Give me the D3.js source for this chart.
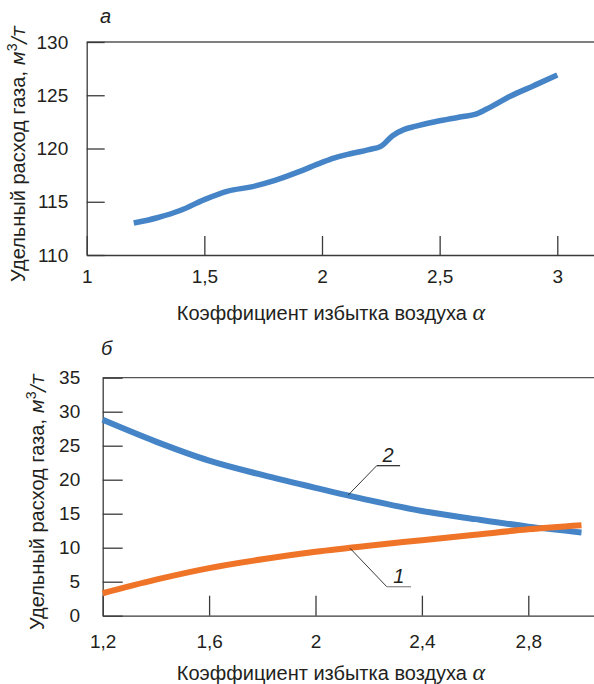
<!DOCTYPE html>
<html>
<head>
<meta charset="utf-8">
<script src="https://cdn.jsdelivr.net/npm/d3@7"></script>
<style>
  body { margin: 0; background: #fff; }
  svg { display: block; font-family: "Liberation Sans", Arial, sans-serif; }
  .axis text { font-size: 19px; fill: #231f20; font-family: "Liberation Sans", Arial, sans-serif; }
  .axis line, .axis path { stroke: #3a3a3a; stroke-width: 1.3; }
  .title { font-size: 20px; fill: #231f20; }
</style>
</head>
<body>
<svg id="chart" width="594" height="684"></svg>
<script>
// chart a: specific gas consumption vs excess air coefficient
let topAlpha = [1.2, 1.3, 1.4, 1.5, 1.6, 1.7, 1.8, 1.9, 2.0, 2.05, 2.1, 2.2, 2.25, 2.3, 2.35, 2.4, 2.5, 2.6, 2.65, 2.7, 2.8, 2.9, 3.0];
let topGas = [113.0, 113.5, 114.2, 115.2, 116.0, 116.4, 117.0, 117.8, 118.7, 119.1, 119.4, 119.9, 120.2, 121.2, 121.8, 122.1, 122.6, 123.0, 123.2, 123.7, 124.9, 125.9, 126.9];
let topXTicks = [1, 1.5, 2, 2.5, 3];
let topYTicks = [110, 115, 120, 125, 130];

// chart б: curves 1 and 2
let botAlpha = [1.2, 1.4, 1.6, 1.8, 2.0, 2.2, 2.4, 2.6, 2.8, 3.0];
let curve1 = [3.3, 5.3, 7.0, 8.3, 9.4, 10.3, 11.1, 11.9, 12.7, 13.3];
let curve2 = [28.8, 25.6, 22.8, 20.7, 18.8, 17.0, 15.4, 14.2, 13.1, 12.25];
let botXTicks = [1.2, 1.6, 2, 2.4, 2.8];
let botYTicks = [0, 5, 10, 15, 20, 25, 30, 35];

let blue = "#4584c6", orange = "#ef7428";
let svg = d3.select("#chart");
let fmt = d => String(d).replace(".", ",");

// y axis title with oblique units and superscript
let yTitle = (x, cy) => {
    let t = svg.append("text")
        .attr("class", "title")
        .attr("font-size", "21.5px")
        .attr("transform", "translate(" + x + "," + cy + ") rotate(-90)")
        .attr("text-anchor", "middle");
    t.append("tspan").text("Удельный расход газа, ");
    t.append("tspan").attr("font-family", "'DejaVu Sans', sans-serif")
        .attr("font-style", "oblique").attr("font-size", "19px").text("м");
    t.append("tspan").attr("font-size", "14px").attr("dy", "-8").text("3");
    t.append("tspan").attr("font-family", "'DejaVu Sans', sans-serif")
        .attr("font-style", "oblique").attr("font-size", "19px").attr("dy", "8").text("/т");
};

let xTitle = (cx, y) => {
    let t = svg.append("text")
        .attr("class", "title")
        .attr("x", cx)
        .attr("y", y)
        .attr("text-anchor", "middle");
    t.append("tspan").text("Коэффициент избытка воздуха ");
    t.append("tspan")
        .attr("font-family", "'Liberation Serif', serif")
        .attr("font-style", "italic")
        .attr("font-size", "24px")
        .text("α");
};

let frame = (x, y) => {
    // top border
    svg.append("line")
        .attr("x1", x.range()[0]).attr("x2", x.range()[1])
        .attr("y1", y.range()[1]).attr("y2", y.range()[1])
        .attr("stroke", "#555").attr("stroke-width", 1.3);
};

// ---------- chart a ----------
let xA = d3.scaleLinear().domain([1, 3.156]).range([86.7, 594]);
let yA = d3.scaleLinear().domain([110, 130]).range([255, 42]);

frame(xA, yA);

svg.append("g")
    .attr("class", "axis")
    .attr("transform", "translate(0," + yA(110) + ")")
    .call(d3.axisBottom(xA).tickValues(topXTicks).tickFormat(fmt)
        .tickSizeInner(-19).tickSizeOuter(0).tickPadding(14.5));

svg.append("g")
    .attr("class", "axis")
    .attr("transform", "translate(" + xA(1) + ",0)")
    .call(d3.axisLeft(yA).tickValues(topYTicks)
        .tickSizeInner(-18).tickSizeOuter(0).tickPadding(18.5));

svg.append("path")
    .datum(topAlpha.map((a, i) => [a, topGas[i]]))
    .attr("fill", "none")
    .attr("stroke", blue)
    .attr("stroke-width", 5.5)
    .attr("d", d3.line().x(d => xA(d[0])).y(d => yA(d[1])).curve(d3.curveMonotoneX));

svg.append("text")
    .attr("class", "title")
    .attr("x", 100).attr("y", 23)
    .attr("font-style", "italic")
    .text("а");

yTitle(25, 154);
xTitle(331, 320);

// ---------- chart б ----------
let xB = d3.scaleLinear().domain([1.2, 3.047]).range([102.7, 594]);
let yB = d3.scaleLinear().domain([0, 35]).range([615.7, 377.7]);

frame(xB, yB);

svg.append("g")
    .attr("class", "axis")
    .attr("transform", "translate(0," + yB(0) + ")")
    .call(d3.axisBottom(xB).tickValues(botXTicks).tickFormat(fmt)
        .tickSizeInner(-20).tickSizeOuter(0).tickPadding(19));

svg.append("g")
    .attr("class", "axis")
    .attr("transform", "translate(" + xB(1.2) + ",0)")
    .call(d3.axisLeft(yB).tickValues(botYTicks)
        .tickSizeInner(-20).tickSizeOuter(0).tickPadding(22.5));

let lineB = d3.line().x(d => xB(d[0])).y(d => yB(d[1])).curve(d3.curveMonotoneX);

svg.append("path")
    .datum(botAlpha.map((a, i) => [a, curve2[i]]))
    .attr("fill", "none")
    .attr("stroke", blue)
    .attr("stroke-width", 6)
    .attr("d", lineB);

svg.append("path")
    .datum(botAlpha.map((a, i) => [a, curve1[i]]))
    .attr("fill", "none")
    .attr("stroke", orange)
    .attr("stroke-width", 6)
    .attr("d", lineB);

// curve labels with leader lines (data units)
let labels = [
    { name: "2", pts: [[2.123, 17.74], [2.23, 22.06], [2.318, 22.06]], text: [2.252, 22.65], under: "#222" },
    { name: "1", pts: [[2.13, 9.91], [2.268, 4.26], [2.359, 4.26]], text: [2.292, 4.85], under: "#888" }
];

labels.forEach(l => {
    svg.append("path")
        .attr("fill", "none")
        .attr("stroke", "#222")
        .attr("stroke-width", 0.9)
        .attr("d", d3.line().x(d => xB(d[0])).y(d => yB(d[1]))(l.pts.slice(0, 2)));
    svg.append("path")
        .attr("fill", "none")
        .attr("stroke", l.under)
        .attr("stroke-width", 1.2)
        .attr("d", d3.line().x(d => xB(d[0])).y(d => yB(d[1]))(l.pts.slice(1)));
    svg.append("text")
        .attr("class", "title")
        .attr("x", xB(l.text[0])).attr("y", yB(l.text[1]))
        .attr("font-style", "italic")
        .text(l.name);
});

svg.append("text")
    .attr("class", "title")
    .attr("x", 101).attr("y", 355)
    .attr("font-style", "italic")
    .text("б");

yTitle(44, 502);
xTitle(331, 680);
</script>
</body>
</html>
